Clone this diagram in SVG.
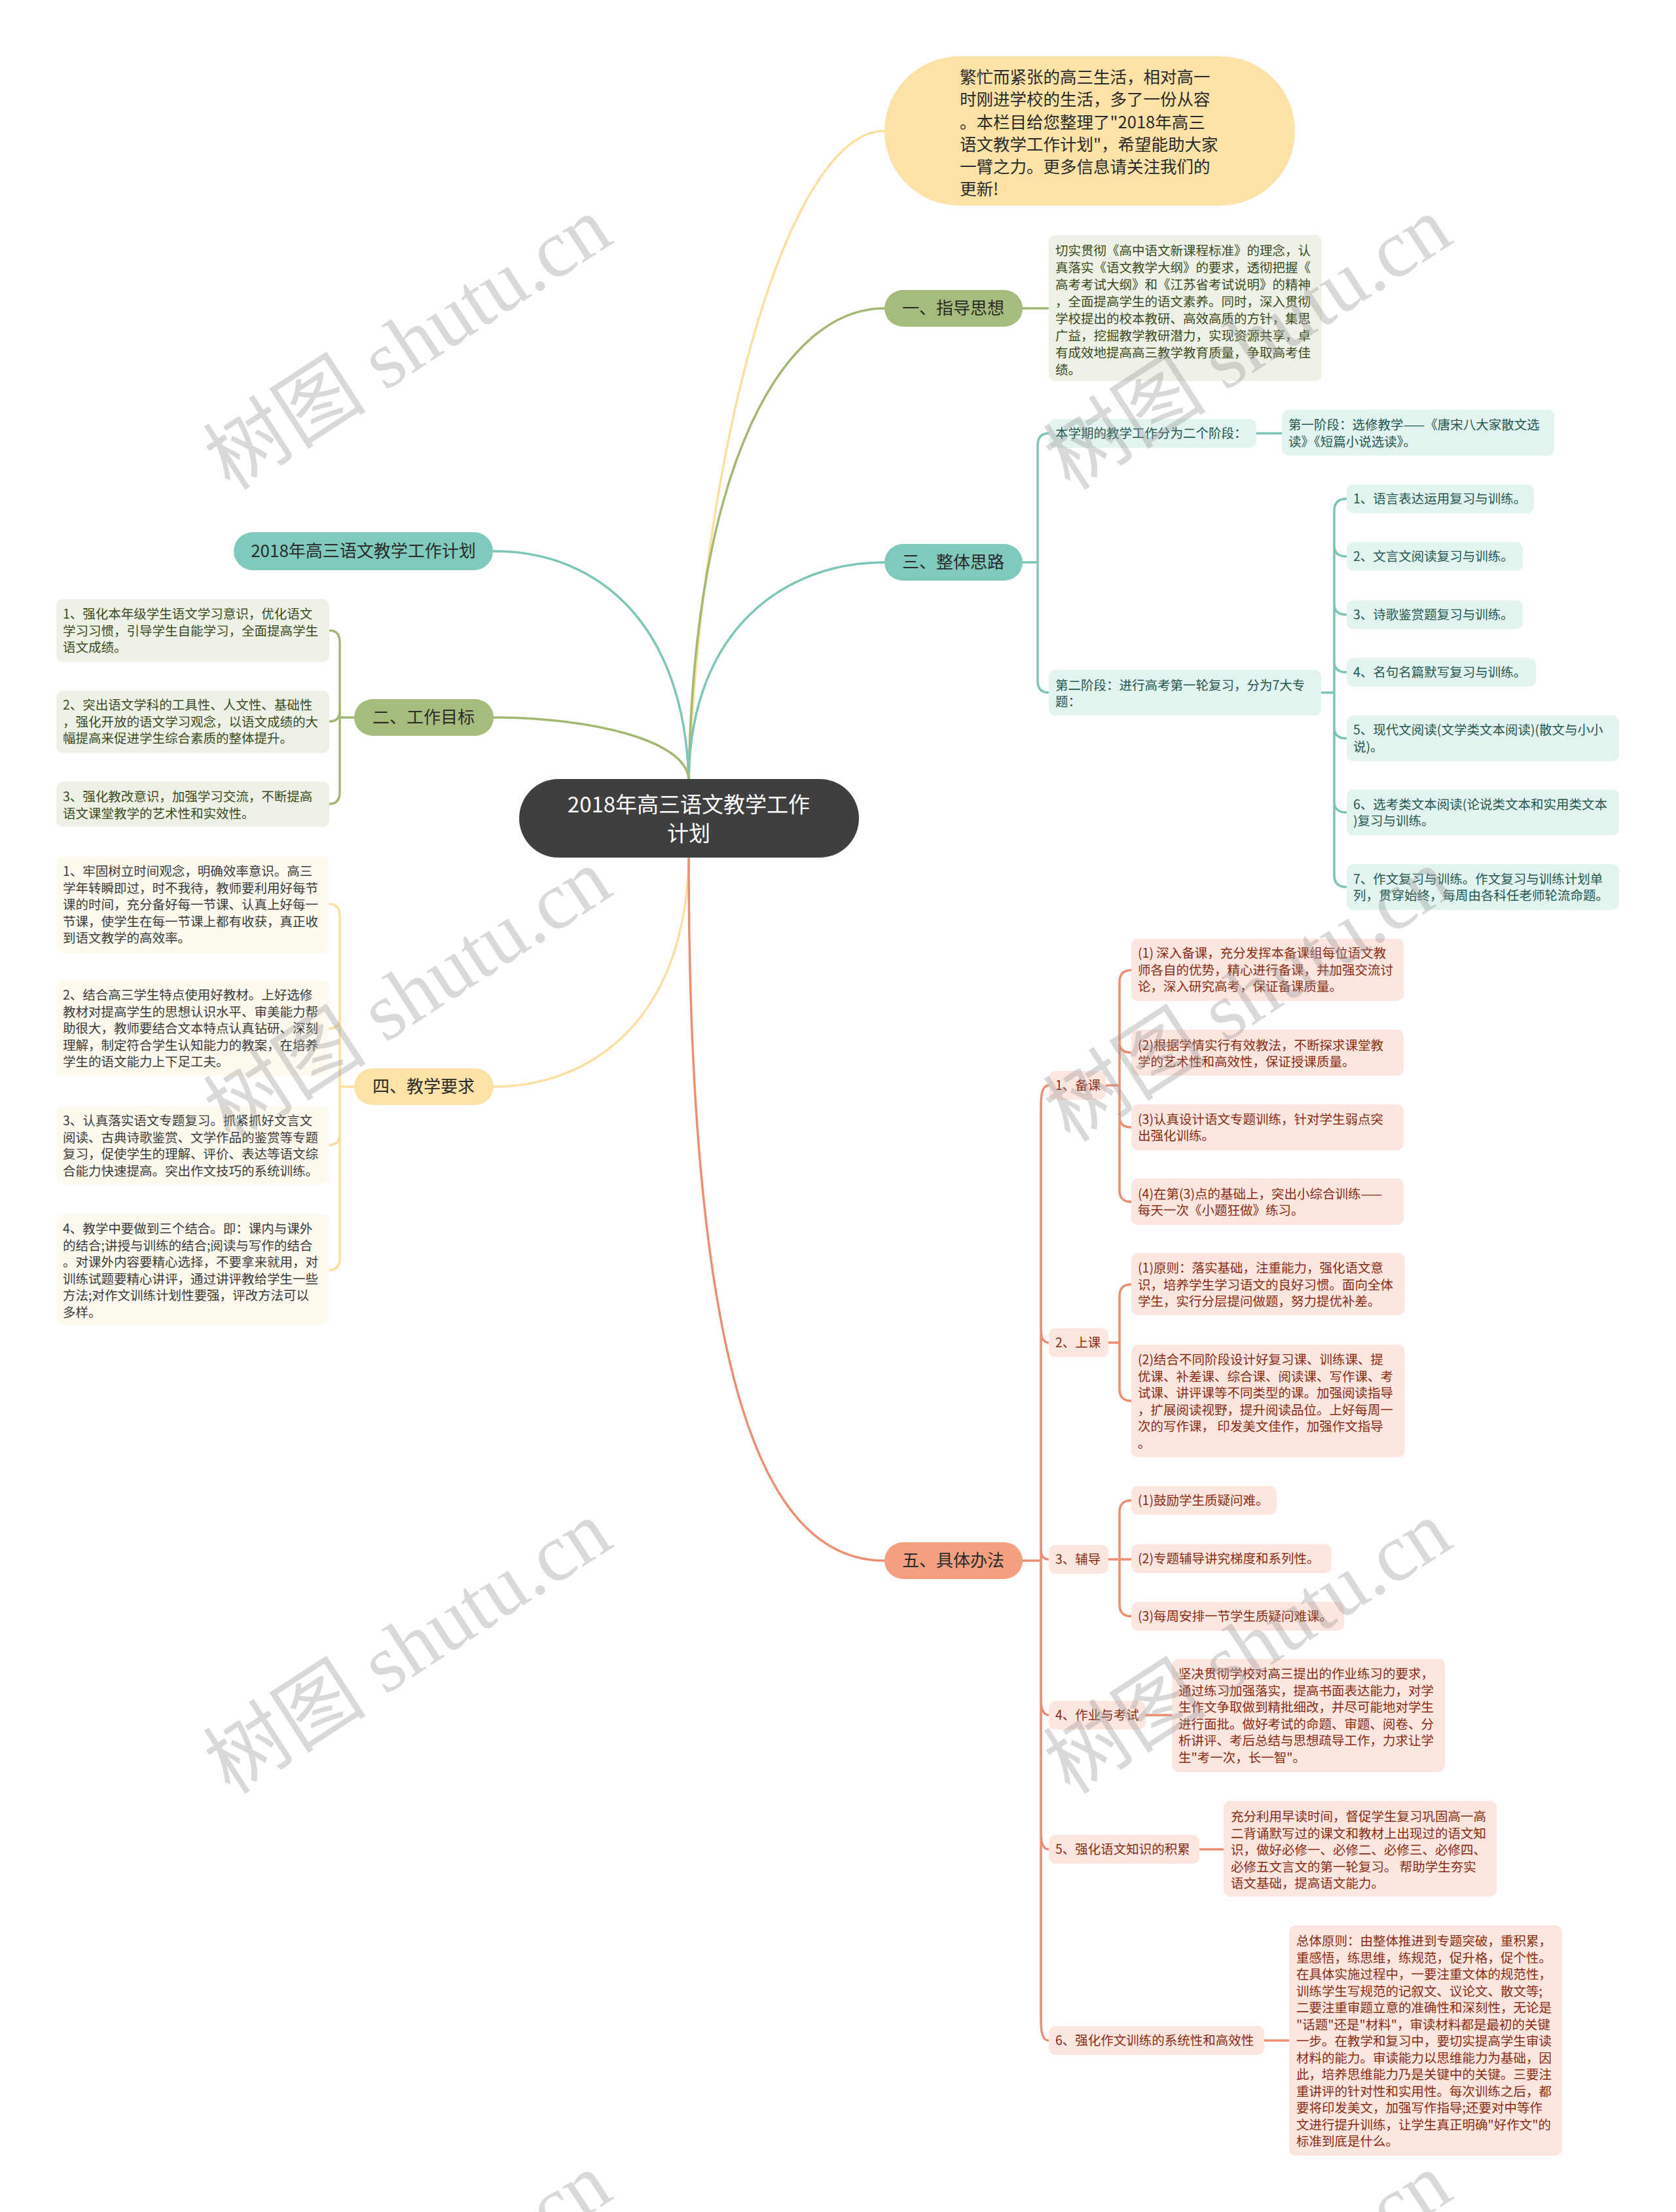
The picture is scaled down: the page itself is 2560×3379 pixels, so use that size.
<svg xmlns="http://www.w3.org/2000/svg" width="2560" height="3379" viewBox="0 0 2560 3379">
<style>
text{font-family:"Noto Sans CJK SC","Noto Sans",sans-serif}
.lf{font-size:19.5px}
.mn{font-size:26px;fill:#2a2a2a;text-anchor:middle}
.gN{fill:#a6bc7c}.gL{fill:#eef1e5}.gT{fill:#3b4a1e}
.tN{fill:#7fcabc}.tL{fill:#e3f3f0}.tT{fill:#23564d}
.yN{fill:#fde2a8}.yL{fill:#fefaef}.yT{fill:#3a3a3a}
.sN{fill:#f39f80}.sL{fill:#fde6e0}.sT{fill:#8a2b13}
.c{fill:none;stroke-width:3.5;stroke-linecap:round}
.cg{stroke:#a3b872}.ct{stroke:#7cc5b7}.cy{stroke:#fbe0a0}.cs{stroke:#ec8f70}
.wm{font-family:"Liberation Serif","Noto Sans CJK SC",serif;font-size:125px;fill:#9a9a9a;fill-opacity:0.38;text-anchor:middle}
</style>
<rect width="2560" height="3379" fill="#ffffff"/>

<g id="connectors">
<path class="c cy" d="M1052,1190 C1075,650 1210,200 1351,200"/>
<path class="c cg" d="M1052,1190 C1060,700 1200,471 1351,471"/>
<path class="c ct" d="M1052,1190 C1055,960 1200,859 1351,859"/>
<path class="c ct" d="M1052,1190 C1045,960 920,842 754,842"/>
<path class="c cg" d="M1052,1190 C1048,1130 900,1096 754,1096"/>
<path class="c cy" d="M1052,1310 C1048,1560 900,1660 754,1660"/>
<path class="c cs" d="M1052,1310 C1052,2150 1180,2384 1351,2384"/>

<path class="c cg" d="M1562,471 L1602,471"/>
<path class="c cg" d="M541,1096 L519,1096 M503,963 Q519,963 519,981 L519,1210 Q519,1228 503,1228 M519,1086 Q519,1102 503,1102"/>
<path class="c cy" d="M541,1660 L519,1660 M503,1381 Q519,1381 519,1399 L519,1922 Q519,1940 503,1940 M519,1555 Q519,1571 503,1571 M519,1733 Q519,1749 503,1749"/>

<path class="c ct" d="M1562,859 L1585,859 M1602,662 Q1585,662 1585,680 L1585,1040 Q1585,1058 1602,1058"/>
<path class="c ct" d="M1919,662 L1958,662"/>
<path class="c ct" d="M2018,1058 L2038,1058 M2057,762 Q2038,762 2038,780 L2038,1337 Q2038,1355 2057,1355 M2038,834 Q2038,850 2057,850 M2038,923 Q2038,939 2057,939 M2038,1011 Q2038,1027 2057,1027 M2038,1112 Q2038,1128 2057,1128 M2038,1225 Q2038,1241 2057,1241"/>

<path class="c cs" d="M1562,2384 L1590,2384 M1602,1658 C1593,1658 1590,1668 1590,1690 L1590,3085 C1590,3107 1593,3117 1602,3117 M1590,2030 C1590,2045 1594,2051 1602,2051 M1590,2366 C1590,2377 1594,2382 1602,2382 M1590,2595 C1590,2612 1594,2620 1602,2620 M1590,2800 C1590,2817 1594,2825 1602,2825"/>
<path class="c cs" d="M1689,1658 L1710,1658 M1728,1482 Q1710,1482 1710,1500 L1710,1818 Q1710,1836 1728,1836 M1710,1592 Q1710,1608 1728,1608 M1710,1706 Q1710,1722 1728,1722"/>
<path class="c cs" d="M1693,2051 L1710,2051 M1728,1962 Q1710,1962 1710,1980 L1710,2122 Q1710,2140 1728,2140"/>
<path class="c cs" d="M1693,2382 L1728,2382 M1728,2292 Q1710,2292 1710,2310 L1710,2451 Q1710,2469 1728,2469"/>
<path class="c cs" d="M1750,2620 L1790,2620"/>
<path class="c cs" d="M1832,2825 L1869,2825"/>
<path class="c cs" d="M1931,3117 L1969,3117"/>
</g>

<g id="center">
<rect x="793" y="1190" width="519" height="120" rx="60" fill="#3f3f3f"/>
<text x="1052" y="1241" font-size="33" fill="#ffffff" text-anchor="middle">2018年高三语文教学工作</text>
<text x="1052" y="1285" font-size="33" fill="#ffffff" text-anchor="middle">计划</text>
</g>

<g id="intro">
<rect x="1351" y="86" width="627" height="228" rx="114" class="yN"/>
<text font-size="25.5" fill="#2a2a2a">
<tspan x="1466" y="127">繁忙而紧张的高三生活，相对高一</tspan>
<tspan x="1466" y="161">时刚进学校的生活，多了一份从容</tspan>
<tspan x="1466" y="196">。本栏目给您整理了"2018年高三</tspan>
<tspan x="1466" y="230">语文教学工作计划"，希望能助大家</tspan>
<tspan x="1466" y="264">一臂之力。更多信息请关注我们的</tspan>
<tspan x="1466" y="298">更新!</tspan>
</text>
</g>

<g id="n1">
<rect x="1351" y="443" width="211" height="56" rx="28" class="gN"/>
<text x="1456" y="480" class="mn">一、指导思想</text>
</g>
<g id="n1-1">
<rect x="1602" y="359" width="417" height="223" rx="10" class="gL"/>
<text class="lf gT">
<tspan x="1612" y="390">切实贯彻《高中语文新课程标准》的理念，认</tspan>
<tspan x="1612" y="416">真落实《语文教学大纲》的要求，透彻把握《</tspan>
<tspan x="1612" y="442">高考考试大纲》和《江苏省考试说明》的精神</tspan>
<tspan x="1612" y="468">，全面提高学生的语文素养。同时，深入贯彻</tspan>
<tspan x="1612" y="494">学校提出的校本教研、高效高质的方针，集思</tspan>
<tspan x="1612" y="520">广益，挖掘教学教研潜力，实现资源共享，卓</tspan>
<tspan x="1612" y="546">有成效地提高高三教学教育质量，争取高考佳</tspan>
<tspan x="1612" y="572">绩。</tspan>
</text>
</g>

<g id="nplan">
<rect x="357" y="813" width="396" height="58" rx="29" class="tN"/>
<text x="555" y="851" class="mn">2018年高三语文教学工作计划</text>
</g>

<g id="n2">
<rect x="541" y="1068" width="213" height="56" rx="28" class="gN"/>
<text x="647" y="1105" class="mn">二、工作目标</text>
</g>
<g id="n2-1">
<rect x="86" y="915" width="417" height="96" rx="10" class="gL"/>
<text class="lf gT"><tspan x="96" y="945">1、强化本年级学生语文学习意识，优化语文</tspan><tspan x="96" y="970.5">学习习惯，引导学生自能学习，全面提高学生</tspan><tspan x="96" y="996">语文成绩。</tspan></text>
</g>
<g id="n2-2">
<rect x="86" y="1055" width="417" height="95" rx="10" class="gL"/>
<text class="lf gT"><tspan x="96" y="1084">2、突出语文学科的工具性、人文性、基础性</tspan><tspan x="96" y="1109.5">，强化开放的语文学习观念，以语文成绩的大</tspan><tspan x="96" y="1135">幅提高来促进学生综合素质的整体提升。</tspan></text>
</g>
<g id="n2-3">
<rect x="86" y="1194" width="417" height="69" rx="10" class="gL"/>
<text class="lf gT"><tspan x="96" y="1224">3、强化教改意识，加强学习交流，不断提高</tspan><tspan x="96" y="1249.5">语文课堂教学的艺术性和实效性。</tspan></text>
</g>

<g id="n3">
<rect x="1351" y="831" width="211" height="56" rx="28" class="tN"/>
<text x="1456" y="868" class="mn">三、整体思路</text>
</g>
<g id="n3-1">
<rect x="1602" y="640" width="317" height="44" rx="10" class="tL"/>
<text x="1612" y="669" class="lf tT">本学期的教学工作分为二个阶段：</text>
</g>
<g id="n3-1-1">
<rect x="1958" y="626" width="416" height="70" rx="10" class="tL"/>
<text class="lf tT"><tspan x="1968" y="656">第一阶段：选修教学——《唐宋八大家散文选</tspan><tspan x="1968" y="682">读》《短篇小说选读》。</tspan></text>
</g>
<g id="n3-2">
<rect x="1602" y="1023" width="416" height="70" rx="10" class="tL"/>
<text class="lf tT"><tspan x="1612" y="1054">第二阶段：进行高考第一轮复习，分为7大专</tspan><tspan x="1612" y="1079">题：</tspan></text>
</g>
<g id="n3-2-1"><rect x="2057" y="740" width="286" height="44" rx="10" class="tL"/><text x="2067" y="769" class="lf tT">1、语言表达运用复习与训练。</text></g>
<g id="n3-2-2"><rect x="2057" y="828" width="269" height="44" rx="10" class="tL"/><text x="2067" y="857" class="lf tT">2、文言文阅读复习与训练。</text></g>
<g id="n3-2-3"><rect x="2057" y="917" width="269" height="44" rx="10" class="tL"/><text x="2067" y="946" class="lf tT">3、诗歌鉴赏题复习与训练。</text></g>
<g id="n3-2-4"><rect x="2057" y="1005" width="289" height="44" rx="10" class="tL"/><text x="2067" y="1034" class="lf tT">4、名句名篇默写复习与训练。</text></g>
<g id="n3-2-5"><rect x="2057" y="1093" width="416" height="70" rx="10" class="tL"/><text class="lf tT"><tspan x="2067" y="1122">5、现代文阅读(文学类文本阅读)(散文与小小</tspan><tspan x="2067" y="1148">说)。</tspan></text></g>
<g id="n3-2-6"><rect x="2057" y="1206" width="416" height="70" rx="10" class="tL"/><text class="lf tT"><tspan x="2067" y="1236">6、选考类文本阅读(论说类文本和实用类文本</tspan><tspan x="2067" y="1261">)复习与训练。</tspan></text></g>
<g id="n3-2-7"><rect x="2057" y="1320" width="416" height="70" rx="10" class="tL"/><text class="lf tT"><tspan x="2067" y="1350">7、作文复习与训练。作文复习与训练计划单</tspan><tspan x="2067" y="1375">列，贯穿始终，每周由各科任老师轮流命题。</tspan></text></g>

<g id="n4">
<rect x="541" y="1632" width="213" height="56" rx="28" class="yN"/>
<text x="647" y="1669" class="mn">四、教学要求</text>
</g>
<g id="n4-1">
<rect x="86" y="1308" width="417" height="148" rx="10" class="yL"/>
<text class="lf yT"><tspan x="96" y="1338">1、牢固树立时间观念，明确效率意识。高三</tspan><tspan x="96" y="1363.5">学年转瞬即过，时不我待，教师要利用好每节</tspan><tspan x="96" y="1389">课的时间，充分备好每一节课、认真上好每一</tspan><tspan x="96" y="1414.5">节课，使学生在每一节课上都有收获，真正收</tspan><tspan x="96" y="1440">到语文教学的高效率。</tspan></text>
</g>
<g id="n4-2">
<rect x="86" y="1498" width="417" height="146" rx="10" class="yL"/>
<text class="lf yT"><tspan x="96" y="1527">2、结合高三学生特点使用好教材。上好选修</tspan><tspan x="96" y="1552.5">教材对提高学生的思想认识水平、审美能力帮</tspan><tspan x="96" y="1578">助很大，教师要结合文本特点认真钻研、深刻</tspan><tspan x="96" y="1603.5">理解，制定符合学生认知能力的教案，在培养</tspan><tspan x="96" y="1629">学生的语文能力上下足工夫。</tspan></text>
</g>
<g id="n4-3">
<rect x="86" y="1690" width="417" height="119" rx="10" class="yL"/>
<text class="lf yT"><tspan x="96" y="1719">3、认真落实语文专题复习。抓紧抓好文言文</tspan><tspan x="96" y="1744.5">阅读、古典诗歌鉴赏、文学作品的鉴赏等专题</tspan><tspan x="96" y="1770">复习，促使学生的理解、评价、表达等语文综</tspan><tspan x="96" y="1795.5">合能力快速提高。突出作文技巧的系统训练。</tspan></text>
</g>
<g id="n4-4">
<rect x="86" y="1855" width="417" height="169" rx="10" class="yL"/>
<text class="lf yT"><tspan x="96" y="1884">4、教学中要做到三个结合。即：课内与课外</tspan><tspan x="96" y="1909.5">的结合;讲授与训练的结合;阅读与写作的结合</tspan><tspan x="96" y="1935">。对课外内容要精心选择，不要拿来就用，对</tspan><tspan x="96" y="1960.5">训练试题要精心讲评，通过讲评教给学生一些</tspan><tspan x="96" y="1986">方法;对作文训练计划性要强，评改方法可以</tspan><tspan x="96" y="2011.5">多样。</tspan></text>
</g>

<g id="n5">
<rect x="1351" y="2356" width="211" height="56" rx="28" class="sN"/>
<text x="1456" y="2393" class="mn">五、具体办法</text>
</g>
<g id="n5-1"><rect x="1602" y="1636" width="87" height="44" rx="10" class="sL"/><text x="1612" y="1665" class="lf sT">1、备课</text></g>
<g id="n5-1-1"><rect x="1728" y="1434" width="416" height="95" rx="10" class="sL"/><text class="lf sT"><tspan x="1738" y="1463">(1) 深入备课，充分发挥本备课组每位语文教</tspan><tspan x="1738" y="1488.5">师各自的优势，精心进行备课，并加强交流讨</tspan><tspan x="1738" y="1514">论，深入研究高考，保证备课质量。</tspan></text></g>
<g id="n5-1-2"><rect x="1728" y="1573" width="416" height="70" rx="10" class="sL"/><text class="lf sT"><tspan x="1738" y="1604">(2)根据学情实行有效教法，不断探求课堂教</tspan><tspan x="1738" y="1629">学的艺术性和高效性，保证授课质量。</tspan></text></g>
<g id="n5-1-3"><rect x="1728" y="1687" width="416" height="70" rx="10" class="sL"/><text class="lf sT"><tspan x="1738" y="1717">(3)认真设计语文专题训练，针对学生弱点突</tspan><tspan x="1738" y="1742">出强化训练。</tspan></text></g>
<g id="n5-1-4"><rect x="1728" y="1800" width="416" height="71" rx="10" class="sL"/><text class="lf sT"><tspan x="1738" y="1831">(4)在第(3)点的基础上，突出小综合训练——</tspan><tspan x="1738" y="1856">每天一次《小题狂做》练习。</tspan></text></g>

<g id="n5-2"><rect x="1602" y="2029" width="91" height="44" rx="10" class="sL"/><text x="1612" y="2058" class="lf sT">2、上课</text></g>
<g id="n5-2-1"><rect x="1728" y="1914" width="418" height="95" rx="10" class="sL"/><text class="lf sT"><tspan x="1738" y="1944">(1)原则：落实基础，注重能力，强化语文意</tspan><tspan x="1738" y="1969.5">识，培养学生学习语文的良好习惯。面向全体</tspan><tspan x="1738" y="1995">学生，实行分层提问做题，努力提优补差。</tspan></text></g>
<g id="n5-2-2"><rect x="1728" y="2054" width="418" height="172" rx="10" class="sL"/><text class="lf sT"><tspan x="1738" y="2084">(2)结合不同阶段设计好复习课、训练课、提</tspan><tspan x="1738" y="2109.5">优课、补差课、综合课、阅读课、写作课、考</tspan><tspan x="1738" y="2135">试课、讲评课等不同类型的课。加强阅读指导</tspan><tspan x="1738" y="2160.5">，扩展阅读视野，提升阅读品位。上好每周一</tspan><tspan x="1738" y="2186">次的写作课， 印发美文佳作，加强作文指导</tspan><tspan x="1738" y="2212">。</tspan></text></g>

<g id="n5-3"><rect x="1602" y="2360" width="91" height="44" rx="10" class="sL"/><text x="1612" y="2389" class="lf sT">3、辅导</text></g>
<g id="n5-3-1"><rect x="1728" y="2270" width="222" height="44" rx="10" class="sL"/><text x="1738" y="2299" class="lf sT">(1)鼓励学生质疑问难。</text></g>
<g id="n5-3-2"><rect x="1728" y="2359" width="306" height="44" rx="10" class="sL"/><text x="1738" y="2388" class="lf sT">(2)专题辅导讲究梯度和系列性。</text></g>
<g id="n5-3-3"><rect x="1728" y="2447" width="325" height="44" rx="10" class="sL"/><text x="1738" y="2476" class="lf sT">(3)每周安排一节学生质疑问难课。</text></g>

<g id="n5-4"><rect x="1602" y="2598" width="148" height="44" rx="10" class="sL"/><text x="1612" y="2627" class="lf sT">4、作业与考试</text></g>
<g id="n5-4-1"><rect x="1790" y="2534" width="417" height="173" rx="10" class="sL"/><text class="lf sT"><tspan x="1800" y="2564">坚决贯彻学校对高三提出的作业练习的要求，</tspan><tspan x="1800" y="2589.5">通过练习加强落实，提高书面表达能力，对学</tspan><tspan x="1800" y="2615">生作文争取做到精批细改，并尽可能地对学生</tspan><tspan x="1800" y="2640.5">进行面批。做好考试的命题、审题、阅卷、分</tspan><tspan x="1800" y="2666">析讲评、考后总结与思想疏导工作，力求让学</tspan><tspan x="1800" y="2691.5">生"考一次，长一智"。</tspan></text></g>

<g id="n5-5"><rect x="1602" y="2803" width="230" height="44" rx="10" class="sL"/><text x="1612" y="2832" class="lf sT">5、强化语文知识的积累</text></g>
<g id="n5-5-1"><rect x="1869" y="2751" width="417" height="146" rx="10" class="sL"/><text class="lf sT"><tspan x="1880" y="2782">充分利用早读时间，督促学生复习巩固高一高</tspan><tspan x="1880" y="2807.5">二背诵默写过的课文和教材上出现过的语文知</tspan><tspan x="1880" y="2833">识，做好必修一、必修二、必修三、必修四、</tspan><tspan x="1880" y="2858.5">必修五文言文的第一轮复习。 帮助学生夯实</tspan><tspan x="1880" y="2884">语文基础，提高语文能力。</tspan></text></g>

<g id="n5-6"><rect x="1602" y="3095" width="329" height="44" rx="10" class="sL"/><text x="1612" y="3124" class="lf sT">6、强化作文训练的系统性和高效性</text></g>
<g id="n5-6-1"><rect x="1969" y="2941" width="417" height="352" rx="10" class="sL"/><text class="lf sT"><tspan x="1980" y="2972">总体原则：由整体推进到专题突破，重积累，</tspan><tspan x="1980" y="2997.5">重感悟，练思维，练规范，促升格，促个性。</tspan><tspan x="1980" y="3023">在具体实施过程中，一要注重文体的规范性，</tspan><tspan x="1980" y="3048.5">训练学生写规范的记叙文、议论文、散文等;</tspan><tspan x="1980" y="3074">二要注重审题立意的准确性和深刻性，无论是</tspan><tspan x="1980" y="3099.5">"话题"还是"材料"，审读材料都是最初的关键</tspan><tspan x="1980" y="3125">一步。在教学和复习中，要切实提高学生审读</tspan><tspan x="1980" y="3150.5">材料的能力。审读能力以思维能力为基础，因</tspan><tspan x="1980" y="3176">此，培养思维能力乃是关键中的关键。三要注</tspan><tspan x="1980" y="3201.5">重讲评的针对性和实用性。每次训练之后，都</tspan><tspan x="1980" y="3227">要将印发美文，加强写作指导;还要对中等作</tspan><tspan x="1980" y="3252.5">文进行提升训练，让学生真正明确"好作文"的</tspan><tspan x="1980" y="3278">标准到底是什么。</tspan></text></g>

<g id="watermark">
<text class="wm" transform="translate(646,560) rotate(-33)">树图 shutu.cn</text>
<text class="wm" transform="translate(1929,560) rotate(-33)">树图 shutu.cn</text>
<text class="wm" transform="translate(646,1556) rotate(-33)">树图 shutu.cn</text>
<text class="wm" transform="translate(1929,1556) rotate(-33)">树图 shutu.cn</text>
<text class="wm" transform="translate(646,2552) rotate(-33)">树图 shutu.cn</text>
<text class="wm" transform="translate(1929,2552) rotate(-33)">树图 shutu.cn</text>
<text class="wm" transform="translate(646,3548) rotate(-33)">树图 shutu.cn</text>
<text class="wm" transform="translate(1929,3548) rotate(-33)">树图 shutu.cn</text>
</g>
</svg>
